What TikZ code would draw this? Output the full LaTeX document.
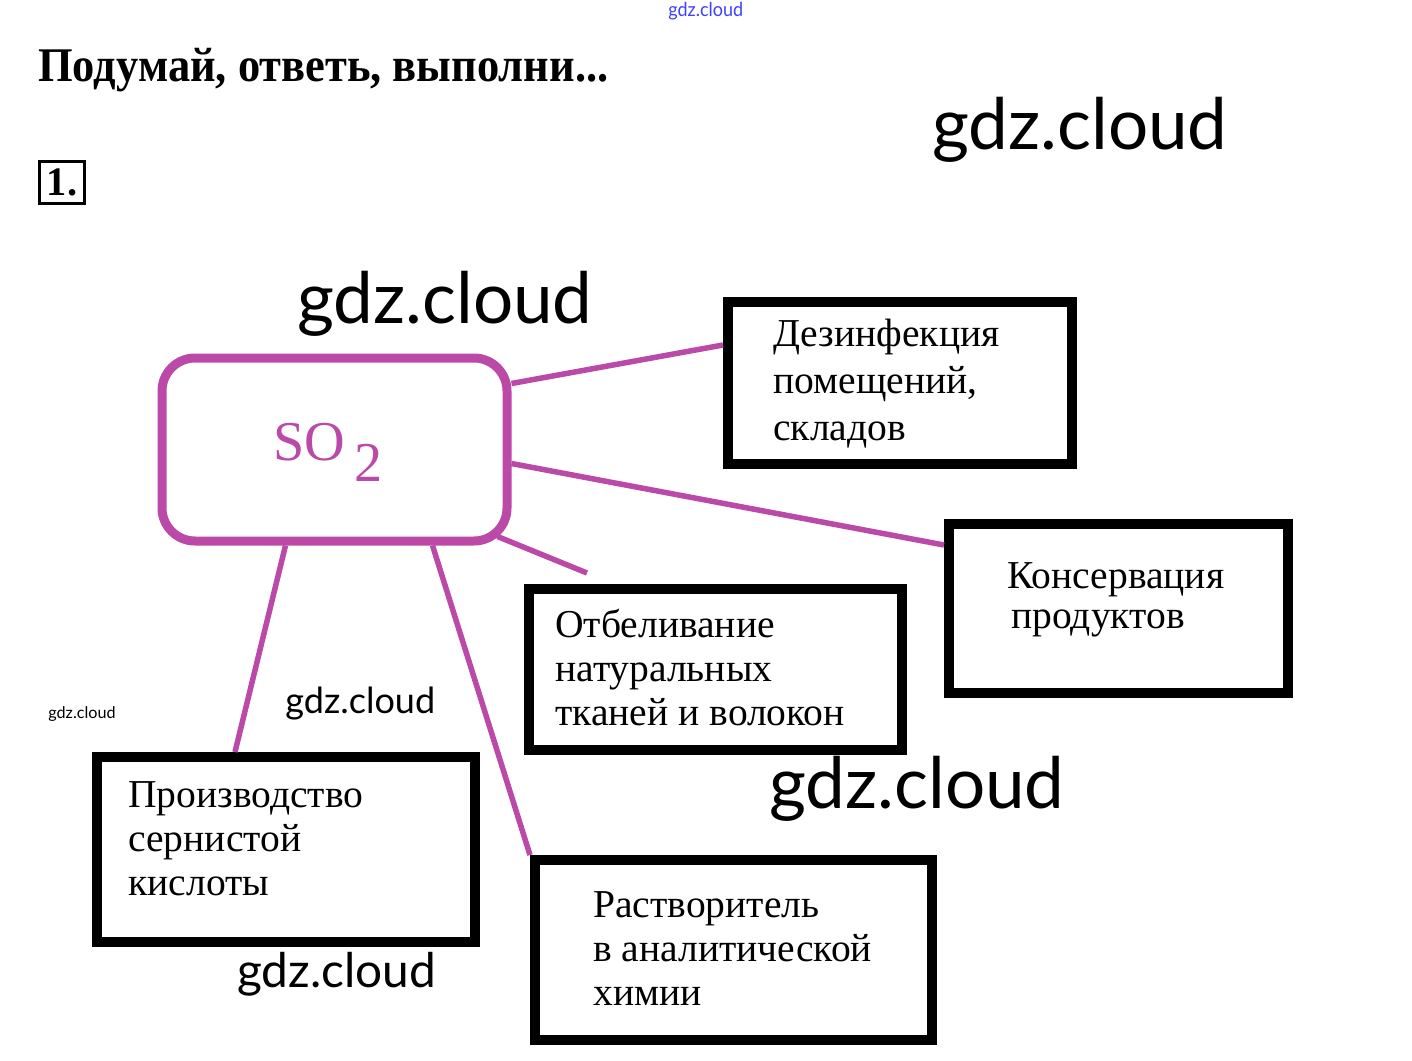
\documentclass[tikz,border=0pt]{standalone}
\usepackage{fontspec}
\setmainfont{Liberation Serif}
\newfontfamily\wmfont{Lato}
\usepackage{tikz}
\usetikzlibrary{positioning,calc,fit}
\definecolor{sotwo}{RGB}{186,73,168}

\begin{document}
\begin{tikzpicture}[x=0.2mm,y=-0.2mm,
box/.style={draw=black,line width=2mm,inner sep=0pt},
txt/.style={anchor=base west,align=left,inner sep=0pt,font=\fontsize{22.5}{25}\selectfont},
wm/.style={anchor=base west,inner sep=0pt,font=\wmfont},
link/.style={draw=sotwo,line width=1.1mm}]
\useasboundingbox (0,0) rectangle (1412,1061);
% heading
\node[anchor=base west,inner sep=0pt,font=\bfseries\fontsize{27.5}{30}\selectfont] (title) at (38,82) {\scalebox{0.92}[1]{Подумай, ответь, выполни...}};
\node[draw,line width=0.6mm,fit={(39.5,161.5) (84.5,203.5)},inner sep=0pt] (num) {};
\node[font=\bfseries\fontsize{23}{25}\selectfont] (numt) at (num) {1.};
% boxes
\node[draw=sotwo,line width=1.8mm,rounded corners=6.6mm,fit={(162,358) (507,541)},inner sep=0pt] (so2) {};
\node[anchor=base west,inner sep=0pt,text=sotwo,font=\fontsize{32}{36}\selectfont] (so2t) at (273,460) {SO\,\raisebox{-4.2mm}{2}};
\node[box,fit={(728,302) (1072,464)}] (dez) {};
\node[box,fit={(949,524) (1288,693)}] (kons) {};
\node[box,fit={(529,589) (902,750)}] (otb) {};
\node[box,fit={(97,757) (475,942)}] (proiz) {};
\node[box,fit={(535,860) (932,1040)}] (rast) {};
\node[txt,font=\fontsize{22.5}{26.5}\selectfont] (dezt) at (773,440) {Дезинфекция\\помещений,\\складов};
\node[txt,font=\fontsize{22.5}{22.7}\selectfont] (konst) at (1007,628) {Консервация\\\hspace*{0.8mm}продуктов};
\node[txt] (otbt) at (555,725) {Отбеливание\\натуральных\\тканей и волокон};
\node[txt] (proizt) at (128,895) {Производство\\сернистой\\кислоты};
\node[txt] (rastt) at (593,1005) {Растворитель\\в аналитической\\химии};
% links
\draw[link] ($(so2.north east)+(0,30)$) -- ($(dez.north west)+(0,48)$);
\draw[link] ($(so2.north east)+(0,110)$) -- ($(kons.north west)+(0,26)$);
\draw[link] ($(so2.south east)+(-14,-9)$) -- ($(otb.north west)+(63,-11)$);
\draw[link] ($(so2.south west)+(128,0)$) -- ($(proiz.north west)+(143,0)$);
\draw[link] ($(so2.south west)+(275,0)$) -- (rast.north west);
% watermarks
\node[wm,text=blue!75,font=\wmfont\fontsize{11}{12}\selectfont] (wm0) at (668,17) {\scalebox{0.93}[1]{gdz.cloud}};
\node[wm,font=\wmfont\fontsize{40.4}{42}\selectfont] (wm1) at (932,150) {gdz.cloud};
\node[wm,font=\wmfont\fontsize{40.4}{42}\selectfont] (wm2) at (297,323) {gdz.cloud};
\node[wm,font=\wmfont\fontsize{40.4}{42}\selectfont] (wm3) at (769,808) {gdz.cloud};
\node[wm,font=\wmfont\fontsize{20.5}{22}\selectfont] (wm4) at (285,713) {gdz.cloud};
\node[wm,font=\wmfont\fontsize{9.2}{10}\selectfont] (wm5) at (48,718) {gdz.cloud};
\node[wm,font=\wmfont\fontsize{27.2}{28}\selectfont] (wm6) at (237,987) {gdz.cloud};
\end{tikzpicture}
\end{document}
